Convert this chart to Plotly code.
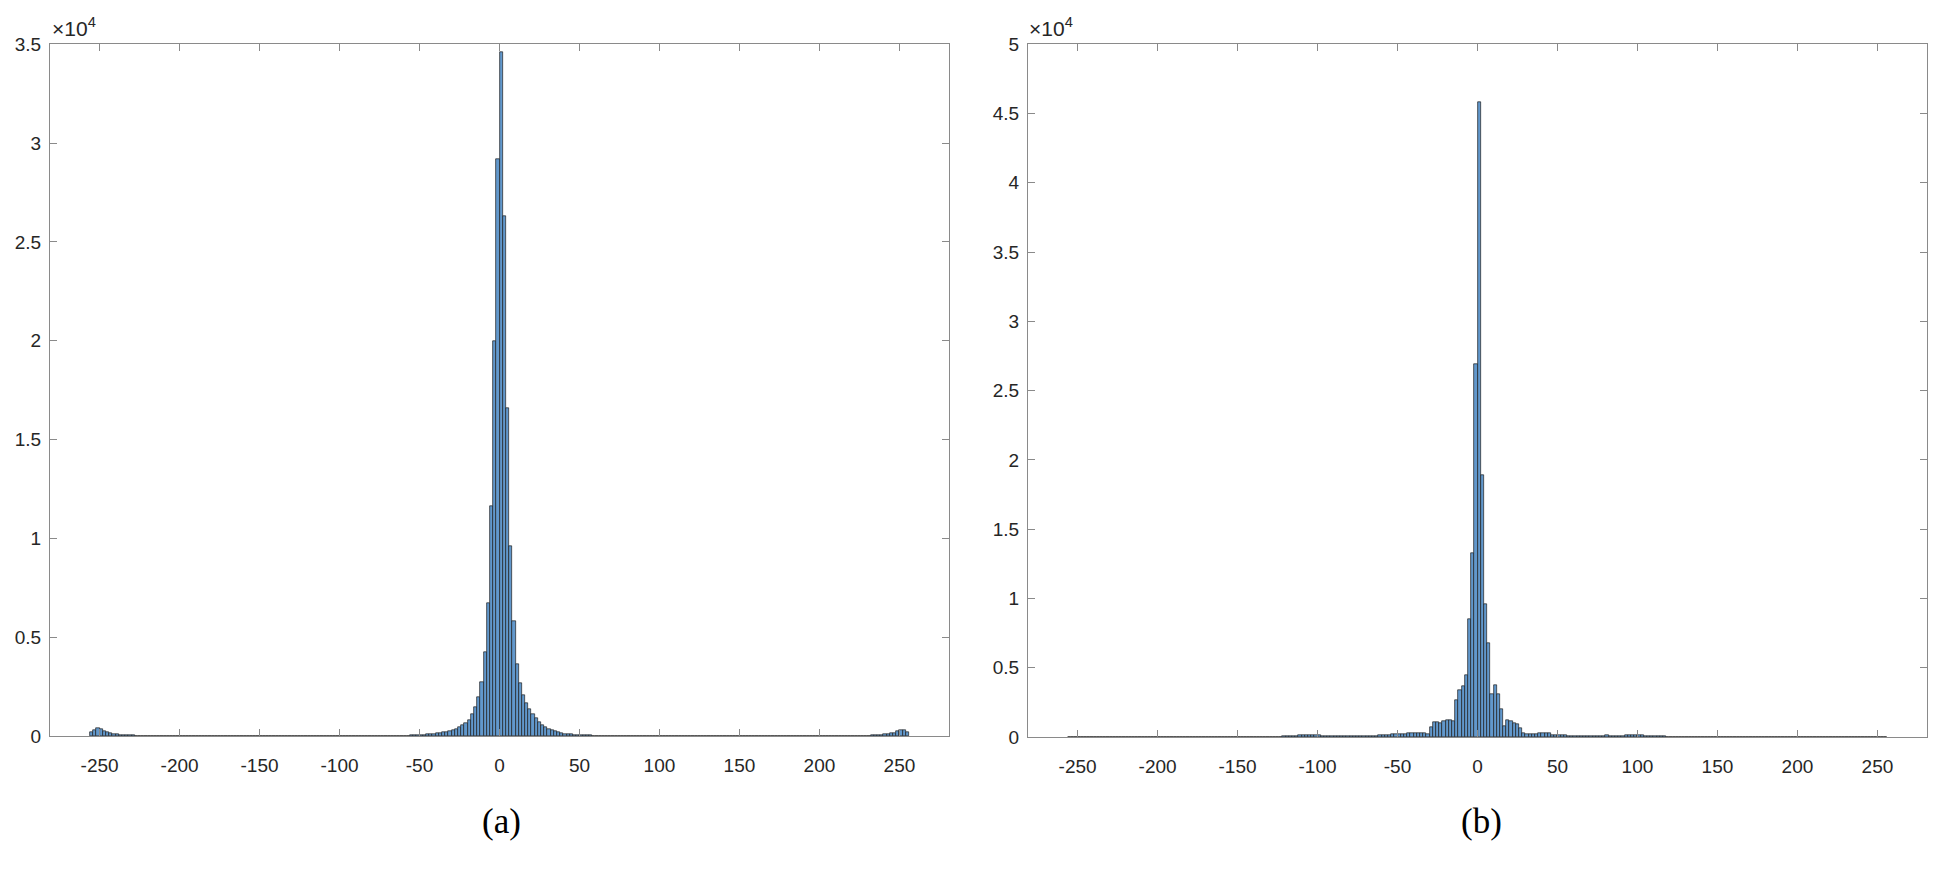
import plotly.graph_objects as go

# ---------------- data (histogram counts, 256 bins of width 2 from -256 to 256) ----------------
bin_start = -256
bin_width = 2

counts_a = [
    200, 300, 380, 330, 250, 180, 130, 100, 80, 70, 60, 55, 50, 45,
    10, 10, 10, 10, 10, 10, 10, 10, 10, 10, 10, 10, 10, 10, 10, 10, 10, 10,
    10, 10, 10, 10, 10, 10, 10, 10, 10, 10, 10, 10, 10, 10, 10, 10, 10, 10,
    0, 0, 10, 0, 0, 0, 0, 0, 0, 0, 0, 0, 10, 0, 0, 0, 0,
    10, 10, 10, 10, 10, 10, 10, 10, 10, 10, 10, 10, 10, 10, 10, 10,
    10, 10, 10, 10, 10, 10, 10, 10, 10, 10, 10, 10, 10, 10, 10, 10,
    20, 40, 30, 50, 60, 70, 80, 95, 110, 130, 150, 175, 205, 240, 290, 360,
    450, 540, 660, 830, 1100, 1450, 1950, 2720, 4260, 6700, 11650, 20000, 29200,
    34600, 26300, 16600, 9600, 5800, 3620, 2680, 2090, 1680, 1350, 1100, 890,
    700, 560, 450, 370, 300, 240, 180, 140, 110, 90, 75, 60, 50, 45, 40, 35, 30,
    20, 15,
    10, 10, 10, 10, 10, 10, 10, 10, 10, 10, 10, 10, 10,
    10, 10, 10, 10, 10, 10, 10, 10, 10, 10, 10, 10,
    0, 10, 0, 0, 0, 10,
    0, 0, 10, 10, 10, 10, 10, 0, 10, 10, 10, 10, 10, 10, 10, 10, 0,
    10, 10, 10, 0, 10, 10, 10, 10, 10, 10, 10, 10, 10, 10, 10, 10, 10,
    10, 10, 10, 10, 10, 10, 10, 10, 10, 10, 10, 10, 10, 10, 10, 10, 10, 10, 10, 10,
    30, 40, 50, 60, 80, 100, 130, 170, 230, 300, 280, 220,
]

counts_b = [
    8, 8, 8, 8, 8, 8, 8, 8, 8, 8, 8, 8, 8, 8, 8, 8,
    8, 8, 8, 8, 8, 8, 8, 8, 8, 8, 8, 8, 8, 8, 8, 8,
    8, 8, 8, 8, 8, 8, 8, 8, 8, 8, 8, 8, 8, 8, 8, 8,
    8, 8, 8, 8, 8, 8, 8, 8, 8, 8, 8, 8, 8, 8, 8, 8,
    20, 25, 30, 40, 50, 60,
    80, 100, 110, 140, 160, 170, 150, 130, 110, 100, 90, 80,
    80, 70, 60, 70, 80, 90, 80, 60, 50, 40, 40, 60, 80, 90, 100, 110, 130,
    150, 170, 190, 200, 210, 200,
    240, 260, 270, 250,
    260, 280, 270, 240,
    700, 1080, 1080, 1010, 1150, 1240, 1220, 1170, 2630, 3400, 3690, 4460, 8500, 13260, 26900,
    45800,
    18900, 9620, 6810, 3120, 3760, 3120, 2000, 780, 1240, 1170, 1010, 940, 630, 280, 190,
    200, 220, 240,
    270, 300, 290, 260,
    170, 150, 140, 150, 120,
    50, 40, 60, 80, 90,
    80, 90, 100, 90, 80, 90, 100, 110, 100, 90, 80, 90,
    100, 120, 140, 150, 140, 120, 110, 100, 90, 80, 70, 60, 50,
    40, 30, 25, 20, 15, 15, 10,
    8, 8, 8, 8, 8, 8, 8, 8, 8, 8, 8, 8, 8, 8, 8, 8,
    8, 8, 8, 8, 8, 8, 8, 8, 8, 8, 8, 8, 8, 8, 8, 8,
    8, 8, 8, 8, 8, 8, 8, 8, 8, 8, 8, 8, 8, 8, 8, 8,
    8, 8, 8, 8, 8, 8, 8, 8, 8, 8, 8, 8, 8, 8, 8,
]

assert len(counts_a) == 256, len(counts_a)
assert len(counts_b) == 256, len(counts_b)

x_tickvals = [-250, -200, -150, -100, -50, 0, 50, 100, 150, 200, 250]
x_ticktext = ["-250", "-200", "-150", "-100", "-50", "0", "50", "100", "150", "200", "250"]
ya_tickvals = [0, 5000, 10000, 15000, 20000, 25000, 30000, 35000]
ya_ticktext = ["0", "0.5", "1", "1.5", "2", "2.5", "3", "3.5"]
yb_tickvals = [0, 5000, 10000, 15000, 20000, 25000, 30000, 35000, 40000, 45000, 50000]
yb_ticktext = ["0", "0.5", "1", "1.5", "2", "2.5", "3", "3.5", "4", "4.5", "5"]
panel_labels = ["(a)", "(b)"]

# ---------------- figure ----------------
W, H = 1940, 873
bar_fill = "rgb(98,152,204)"
bar_edge = "#1c1c1c"
axis_col = "#8a8a8a"
text_col = "#262626"
sans = "Helvetica, 'Liberation Sans', Arial, sans-serif"

fig = go.Figure()
fig.add_trace(go.Bar(y=counts_a, x0=bin_start + bin_width / 2, dx=bin_width, width=bin_width,
                     marker=dict(color=bar_fill, line=dict(color=bar_edge, width=0.7)),
                     xaxis="x", yaxis="y", showlegend=False, hoverinfo="x+y"))
fig.add_trace(go.Bar(y=counts_b, x0=bin_start + bin_width / 2, dx=bin_width, width=bin_width,
                     marker=dict(color=bar_fill, line=dict(color=bar_edge, width=0.7)),
                     xaxis="x2", yaxis="y2", showlegend=False, hoverinfo="x+y"))

def px_x(p):
    return p / W

def px_y(p):
    return 1 - p / H

common = dict(showline=True, linecolor=axis_col, linewidth=1, mirror="ticks",
              ticks="inside", ticklen=7, tickwidth=1, tickcolor=axis_col,
              showgrid=False, zeroline=False,
              tickfont=dict(family=sans, size=19, color=text_col))

fig.update_layout(
    width=W, height=H, autosize=False,
    margin=dict(l=0, r=0, t=0, b=0),
    paper_bgcolor="white", plot_bgcolor="white",
    bargap=0,
    xaxis=dict(domain=[px_x(50), px_x(949)], range=[-281, 281], anchor="y",
               tickmode="array", tickvals=x_tickvals, ticktext=x_ticktext,
               ticklabelstandoff=12, **common),
    yaxis=dict(domain=[px_y(744), px_y(35)], range=[0, 35000], anchor="x",
               tickmode="array", tickvals=ya_tickvals, ticktext=ya_ticktext,
               ticklabelstandoff=4, **common),
    xaxis2=dict(domain=[px_x(1028), px_x(1927)], range=[-281, 281], anchor="y2",
                tickmode="array", tickvals=x_tickvals, ticktext=x_ticktext,
                ticklabelstandoff=12, **common),
    yaxis2=dict(domain=[px_y(745), px_y(35)], range=[0, 50000], anchor="x2",
                tickmode="array", tickvals=yb_tickvals, ticktext=yb_ticktext,
                ticklabelstandoff=4, **common),
)

annos = []
for xl in (50, 1027):
    annos.append(dict(text="×10<sup>4</sup>", xref="paper", yref="paper",
                      x=px_x(xl), y=px_y(33), xanchor="left", yanchor="bottom",
                      showarrow=False, font=dict(family=sans, size=21, color=text_col)))
for lab, xc in zip(panel_labels, (501, 1481)):
    annos.append(dict(text=lab, xref="paper", yref="paper",
                      x=px_x(xc), y=px_y(831), xanchor="center", yanchor="middle",
                      showarrow=False,
                      font=dict(family="'Times New Roman', 'Liberation Serif', serif", size=35, color="black")))
fig.update_layout(annotations=annos)

fig.write_html("out.html", config={"displayModeBar": False},
               post_script="document.body.style.margin='0';document.body.style.overflow='hidden';")
